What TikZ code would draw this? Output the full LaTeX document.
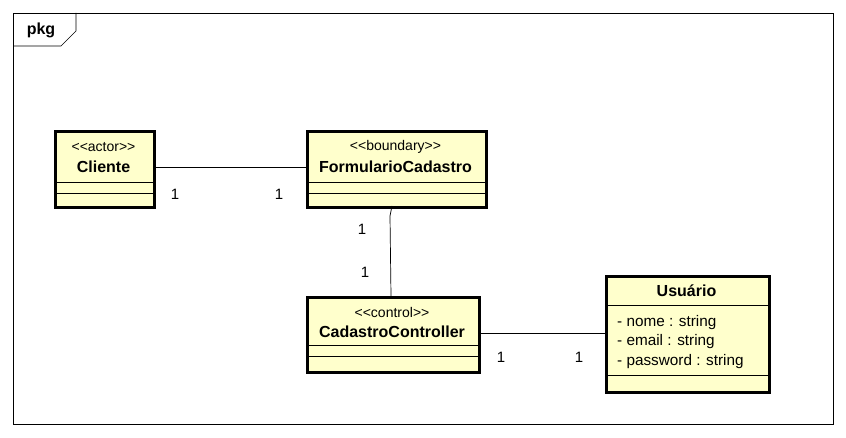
\documentclass[tikz,border=0pt]{standalone}
\usepackage{fontspec}
\setmainfont{Liberation Sans}
\begin{document}
\begin{tikzpicture}[x=1pt,y=-1pt,
  cls/.style={draw=black,line width=2.6pt,fill=umlfill},
  sep/.style={draw=black,line width=0.6pt},
  stereo/.style={font=\fontsize{14}{16}\selectfont,inner sep=0pt},
  cname/.style={font=\bfseries\fontsize{16}{18}\selectfont,inner sep=0pt},
  attr/.style={font=\fontsize{15.3}{17}\selectfont,inner sep=0pt,anchor=west},
  mult/.style={font=\fontsize{15}{17}\selectfont,inner sep=0pt},
  conn/.style={draw=black,line width=0.7pt}]
\definecolor{umlfill}{HTML}{FFFFCC}
\useasboundingbox (0,0) rectangle (846,438);
\fill[white] (0,0) rectangle (846,438);
% frame
\draw[line width=0.7pt] (13,13) rectangle (833,424);
\draw[line width=0.7pt] (13,46) -- (61,46) -- (76,31) -- (76,13);
\node[font=\bfseries\fontsize{16}{18}\selectfont,inner sep=0pt] (pkg) at (41,30) {pkg};
% Cliente
\node[cls,minimum width=99,minimum height=76,inner sep=0pt,anchor=north west] (cli) at (54,130) {};
\draw[sep] (54,182) -- (153,182);
\draw[sep] (54,193) -- (153,193);
\node[stereo] (clis) at (103.5,147) {<{}<actor>{}>};
\node[cname] (clin) at (103.5,167) {Cliente};
% Formulario
\node[cls,minimum width=179,minimum height=76,inner sep=0pt,anchor=north west] (form) at (306,130) {};
\draw[sep] (306,182) -- (485,182);
\draw[sep] (306,193) -- (485,193);
\node[stereo] (forms) at (395.5,147) {<{}<boundary>{}>};
\node[cname] (formn) at (395.5,167) {FormularioCadastro};
% Controller
\node[cls,minimum width=172,minimum height=75,inner sep=0pt,anchor=north west] (ctrl) at (306,296) {};
\draw[sep] (306,345) -- (478,345);
\draw[sep] (306,356) -- (478,356);
\node[stereo] (ctrls) at (392,312) {<{}<control>{}>};
\node[cname] (ctrln) at (392,332) {CadastroController};
% Usuario
\node[cls,minimum width=163,minimum height=116,inner sep=0pt,anchor=north west] (usr) at (605,275) {};
\draw[sep] (605,305) -- (768,305);
\draw[sep] (605,375) -- (768,375);
\node[cname] (usrn) at (686.5,291) {Usuário};
\node[attr] (a1) at (617,323) {- nome : string};
\node[attr] (a2) at (617,342) {- email : string};
\node[attr] (a3) at (617,362) {- password : string};
% connectors
\coordinate (k1) at (390,216);
\draw[conn] (cli.east |- 0,167) -- (form.west |- 0,167);
\draw[conn] (392,206) -- (k1) -- (391,296);
\draw[conn] (ctrl.east |- 0,333) -- (usr.west |- 0,333);
% multiplicities
\node[mult] (m1) at (175,194) {1};
\node[mult] (m2) at (279,194) {1};
\node[mult] (m3) at (362,229) {1};
\node[mult] (m4) at (365,272) {1};
\node[mult] (m5) at (501,357) {1};
\node[mult] (m6) at (579,357) {1};
\end{tikzpicture}
\end{document}
